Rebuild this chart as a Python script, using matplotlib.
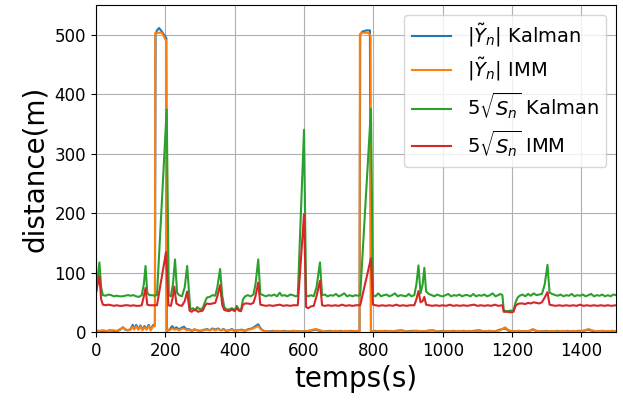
import matplotlib
matplotlib.use('Agg')
import matplotlib.pyplot as plt

# (time s, distance m) samples
kalman_y = [
    (0, 2), (10, 1), (20, 2), (30, 1), (40, 3), (50, 2), (60, 1), (70, 4), (78, 8), (84, 4),
    (92, 3), (100, 5), (106, 12), (110, 6), (116, 12), (122, 5), (128, 11), (134, 4), (140, 10),
    (146, 5), (152, 12), (158, 4), (164, 11), (170, 13), (172, 500), (176, 507), (182, 511),
    (190, 505), (203, 494), (205, 2), (212, 4), (220, 10), (226, 5), (232, 8), (240, 4), (246, 7),
    (254, 9), (262, 4), (268, 5), (276, 2), (284, 4), (292, 3), (300, 2), (310, 3), (320, 5),
    (328, 3), (336, 6), (344, 4), (352, 6), (360, 3), (368, 5), (376, 2), (384, 3), (392, 5),
    (400, 2), (410, 3), (420, 4), (430, 2), (440, 5), (450, 6), (460, 10), (468, 13), (476, 5),
    (484, 2), (495, 1), (510, 2), (525, 1), (540, 2), (555, 1), (570, 2), (585, 1), (600, 1),
    (615, 2), (625, 3), (635, 4), (645, 2), (660, 1), (675, 2), (690, 1), (705, 2), (720, 1),
    (735, 2), (750, 1), (760, 1), (762, 500), (768, 505), (780, 507), (790, 507), (793, 1),
    (805, 2), (820, 1), (835, 2), (850, 1), (865, 2), (880, 3), (895, 1), (910, 2), (925, 2),
    (940, 1), (955, 2), (970, 3), (985, 1), (1000, 2), (1015, 1), (1030, 2), (1045, 1), (1060, 2),
    (1075, 1), (1090, 2), (1105, 3), (1120, 1), (1135, 2), (1150, 1), (1165, 4), (1180, 6),
    (1190, 2), (1205, 1), (1220, 2), (1235, 1), (1250, 2), (1260, 4), (1270, 2), (1285, 1),
    (1300, 2), (1315, 1), (1330, 2), (1345, 1), (1360, 2), (1375, 1), (1390, 2), (1405, 2),
    (1420, 4), (1430, 2), (1445, 1), (1460, 2), (1475, 1), (1490, 2), (1500, 1),
]

imm_y = [
    (0, 3), (10, 2), (20, 3), (30, 2), (40, 2), (50, 3), (60, 2), (70, 5), (78, 8), (84, 5),
    (92, 3), (100, 4), (106, 9), (110, 4), (116, 10), (122, 4), (128, 9), (134, 3), (140, 8),
    (146, 4), (152, 10), (158, 3), (164, 9), (170, 10), (171, 503), (190, 503), (202, 490),
    (204, 3), (212, 3), (220, 6), (226, 4), (232, 5), (240, 3), (246, 5), (254, 6), (262, 3),
    (268, 4), (276, 2), (284, 5), (292, 3), (300, 2), (310, 4), (320, 4), (328, 3), (336, 5),
    (344, 3), (352, 5), (360, 3), (368, 4), (376, 2), (384, 3), (392, 4), (400, 2), (410, 3),
    (420, 3), (430, 2), (440, 4), (450, 5), (460, 8), (468, 10), (476, 4), (484, 2), (495, 1),
    (510, 1), (525, 2), (540, 1), (555, 1), (570, 2), (585, 1), (600, 1), (615, 2), (625, 4),
    (635, 5), (645, 3), (660, 1), (675, 1), (690, 2), (705, 1), (720, 2), (735, 1), (750, 2),
    (760, 2), (761, 500), (766, 503), (786, 503), (792, 497), (793, 2), (805, 1), (820, 2),
    (835, 1), (850, 2), (865, 1), (880, 3), (895, 1), (910, 1), (925, 2), (940, 1), (955, 2),
    (970, 3), (985, 1), (1000, 1), (1015, 2), (1030, 1), (1045, 2), (1060, 1), (1075, 2),
    (1090, 1), (1105, 2), (1120, 1), (1135, 2), (1150, 1), (1165, 3), (1180, 8), (1190, 3),
    (1205, 1), (1220, 2), (1235, 1), (1250, 2), (1260, 5), (1270, 2), (1285, 1), (1300, 1),
    (1315, 2), (1330, 1), (1345, 2), (1360, 1), (1375, 2), (1390, 1), (1405, 2), (1420, 5),
    (1430, 3), (1445, 1), (1460, 2), (1475, 1), (1490, 2), (1500, 1),
]

kalman_s = [
    (0, 65), (4, 85), (10, 117), (15, 75), (20, 62), (28, 61), (36, 63), (44, 62), (52, 60),
    (60, 61), (68, 60), (76, 60), (84, 61), (92, 62), (100, 61), (108, 62), (116, 60), (124, 59),
    (132, 62), (138, 80), (143, 111), (148, 66), (154, 62), (162, 62), (170, 61), (176, 62),
    (204, 374), (210, 62), (216, 60), (222, 80), (228, 122), (234, 66), (240, 62), (248, 60),
    (256, 75), (263, 111), (272, 38), (280, 40), (286, 36), (292, 42), (300, 38), (308, 40),
    (314, 50), (320, 58), (328, 59), (336, 62), (344, 61), (350, 75), (358, 106), (364, 62),
    (370, 42), (376, 38), (384, 38), (392, 40), (400, 37), (406, 44), (412, 38), (418, 36),
    (424, 55), (430, 60), (438, 62), (446, 60), (454, 63), (460, 80), (468, 122), (474, 64),
    (482, 62), (490, 60), (498, 62), (506, 61), (514, 63), (522, 60), (530, 66), (536, 61),
    (544, 62), (552, 60), (560, 63), (568, 62), (576, 60), (582, 61), (600, 340), (606, 62),
    (612, 60), (620, 62), (628, 60), (636, 75), (646, 117), (652, 62), (660, 63), (668, 60),
    (676, 62), (684, 61), (692, 64), (700, 60), (708, 62), (716, 65), (724, 60), (732, 62),
    (740, 60), (748, 62), (756, 61), (762, 62), (793, 375), (799, 62), (806, 60), (814, 65),
    (822, 60), (830, 62), (838, 63), (846, 60), (854, 62), (862, 65), (870, 60), (878, 62),
    (886, 61), (894, 60), (902, 64), (910, 60), (918, 62), (924, 80), (930, 112), (936, 65),
    (942, 80), (947, 108), (952, 68), (960, 64), (968, 62), (976, 60), (984, 63), (992, 61),
    (1000, 60), (1008, 62), (1016, 64), (1024, 60), (1032, 62), (1040, 61), (1048, 63),
    (1056, 60), (1064, 62), (1072, 62), (1080, 60), (1088, 64), (1096, 60), (1104, 62),
    (1112, 61), (1120, 63), (1128, 60), (1136, 62), (1144, 65), (1152, 60), (1160, 62),
    (1166, 64), (1172, 62), (1176, 36), (1186, 35), (1196, 36), (1204, 36), (1210, 50),
    (1216, 58), (1222, 61), (1230, 63), (1238, 60), (1246, 64), (1254, 61), (1262, 65),
    (1270, 62), (1278, 63), (1286, 64), (1294, 80), (1302, 113), (1308, 66), (1316, 64),
    (1324, 62), (1332, 61), (1340, 63), (1348, 60), (1356, 62), (1364, 61), (1372, 64),
    (1380, 60), (1388, 62), (1396, 61), (1404, 63), (1412, 60), (1420, 62), (1428, 64),
    (1436, 60), (1444, 62), (1452, 61), (1460, 63), (1468, 60), (1476, 62), (1484, 60),
    (1492, 63), (1500, 62),
]

imm_s = [
    (0, 65), (4, 78), (10, 93), (15, 55), (20, 46), (28, 45), (36, 46), (44, 45), (52, 44),
    (60, 45), (68, 44), (76, 44), (84, 45), (92, 45), (100, 44), (108, 45), (116, 44), (124, 44),
    (132, 45), (138, 60), (143, 74), (148, 46), (154, 45), (162, 45), (170, 45), (176, 45),
    (202, 134), (209, 45), (216, 44), (222, 60), (226, 76), (232, 48), (240, 45), (248, 44),
    (256, 52), (263, 68), (270, 36), (276, 34), (282, 37), (288, 38), (294, 34), (300, 35),
    (308, 36), (314, 44), (320, 48), (328, 47), (336, 48), (344, 49), (350, 60), (358, 79),
    (364, 46), (370, 37), (376, 36), (384, 35), (392, 38), (400, 35), (406, 40), (412, 36),
    (418, 35), (424, 46), (430, 48), (438, 48), (446, 47), (454, 49), (460, 60), (468, 83),
    (474, 46), (482, 45), (490, 44), (500, 45), (510, 44), (520, 45), (530, 46), (540, 44),
    (550, 45), (560, 44), (570, 45), (582, 45), (600, 198), (606, 42), (612, 40), (620, 43),
    (628, 44), (636, 60), (646, 86), (652, 45), (660, 44), (670, 45), (680, 44), (690, 45),
    (700, 44), (710, 46), (720, 44), (730, 45), (740, 44), (750, 45), (762, 45), (793, 124),
    (799, 46), (806, 45), (816, 44), (826, 45), (836, 44), (846, 45), (856, 44), (866, 46),
    (876, 44), (886, 45), (896, 44), (906, 45), (918, 45), (924, 55), (930, 69), (936, 50),
    (942, 52), (947, 59), (952, 46), (960, 45), (970, 44), (980, 45), (990, 44), (1000, 45),
    (1010, 44), (1020, 46), (1030, 44), (1040, 45), (1050, 44), (1060, 45), (1070, 44),
    (1080, 45), (1090, 46), (1100, 44), (1110, 45), (1120, 44), (1130, 45), (1140, 44),
    (1150, 46), (1160, 44), (1172, 45), (1176, 34), (1186, 34), (1196, 33), (1204, 34),
    (1210, 44), (1216, 47), (1222, 48), (1230, 48), (1238, 47), (1246, 49), (1254, 48),
    (1262, 50), (1270, 49), (1278, 48), (1286, 50), (1294, 58), (1302, 67), (1308, 46),
    (1316, 45), (1326, 44), (1336, 45), (1346, 44), (1356, 45), (1366, 44), (1376, 45),
    (1386, 44), (1396, 46), (1406, 44), (1416, 45), (1426, 44), (1436, 45), (1446, 44),
    (1456, 45), (1466, 44), (1476, 45), (1486, 44), (1500, 45),
]

series = [
    (kalman_y, r'$|\tilde{Y}_n|$ Kalman'),
    (imm_y, r'$|\tilde{Y}_n|$ IMM'),
    (kalman_s, r'$5\sqrt{S_n}$ Kalman'),
    (imm_s, r'$5\sqrt{S_n}$ IMM'),
]

fig, ax = plt.subplots(figsize=(6.23, 4.01), dpi=100)

for data, label in series:
    t, d = zip(*data)
    ax.plot(t, d, label=label, linewidth=1.5)

ax.set_xlim(0, 1500)
ax.set_ylim(0, 550)
ax.grid(True)
ax.tick_params(labelsize=12)
ax.set_xlabel('temps(s)', fontsize=20)
ax.set_ylabel('distance(m)', fontsize=20)
ax.legend(loc='upper right', fontsize=14, labelspacing=0.35)

plt.subplots_adjust(left=0.154, right=0.989, top=0.988, bottom=0.172)
plt.savefig('out.png')
plt.close()
